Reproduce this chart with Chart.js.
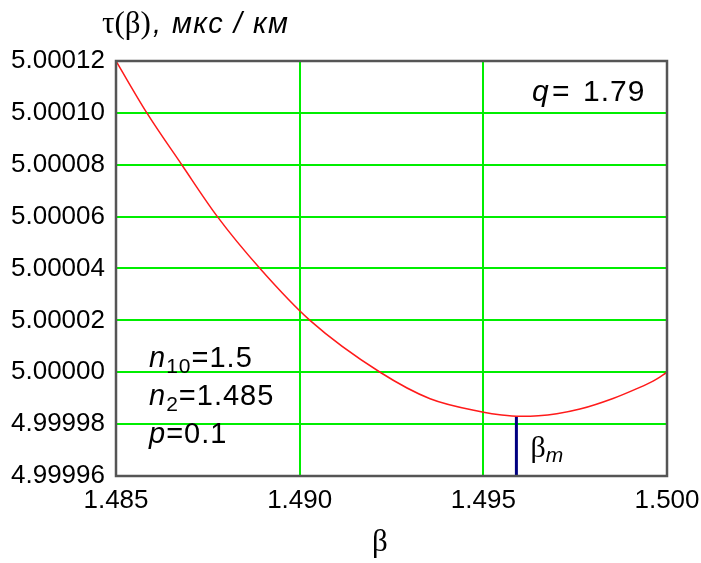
<!DOCTYPE html>
<html>
<head>
<meta charset="utf-8">
<script src="https://cdn.jsdelivr.net/npm/chart.js@4/dist/chart.umd.min.js"></script>
<style>
  html, body { margin: 0; padding: 0; background: #fff; }
  #wrap { width: 701px; height: 563px; }
</style>
</head>
<body>
<div id="wrap"><canvas id="myChart" width="701" height="563"></canvas></div>
<script>
// curve tau(beta)
const beta = [1.485, 1.48584, 1.48679, 1.48776, 1.48892, 1.49028, 1.49219,
  1.49355, 1.49497, 1.4955, 1.4960, 1.4965, 1.4970, 1.49763, 1.49853, 1.49918, 1.49962, 1.500];
const tau = [5.00012, 5.00010, 5.00008, 5.00006, 5.00004, 5.00002, 5.00000,
  4.9999898, 4.9999847, 4.9999835, 4.999983, 4.9999832, 4.999984, 4.9999858, 4.9999899, 4.9999937, 4.9999966, 5.00000];

// marker of the minimum
const betaM = 1.4959;
const tauM = 4.999983;

const xTicks = [1.485, 1.490, 1.495, 1.500];
const yTicks = [4.99996, 4.99998, 5.00000, 5.00002, 5.00004, 5.00006, 5.00008, 5.00010, 5.00012];

const notes = [
  {x: 1.4859, y: 5.000002, name: 'n', sub: '10', val: '=1.5'},
  {x: 1.4859, y: 4.9999872, name: 'n', sub: '2', val: '=1.485'},
  {x: 1.4859, y: 4.9999726, name: 'p', sub: '', val: '=0.1'}
];

const curve = beta.map((b, i) => ({x: b, y: tau[i]}));
const marker = [{x: betaM, y: yTicks[0]}, {x: betaM, y: tauM}];

const textPlugin = {
  id: 'texts',
  afterDraw(chart) {
    const {ctx, chartArea: a, scales: {x, y}} = chart;
    ctx.save();
    // frame
    ctx.strokeStyle = '#555';
    ctx.lineWidth = 2.5;
    ctx.strokeRect(a.left, a.top, a.right - a.left, a.bottom - a.top);

    ctx.fillStyle = '#000';
    ctx.textBaseline = 'alphabetic';
    // title
    ctx.font = '31px "Liberation Serif"';
    ctx.fillText('\u03c4(\u03b2)', 102, 33);
    let w = ctx.measureText('\u03c4(\u03b2)').width;
    ctx.font = 'italic 29px "Liberation Sans"';
    ctx.letterSpacing = '1.5px';
    ctx.fillText(', мкс / км', 104 + w, 33);

    // q
    ctx.letterSpacing = '1px';
    ctx.font = 'italic 30px "Liberation Sans"';
    ctx.fillText('q', 532, 101);
    ctx.font = '30px "Liberation Sans"';
    ctx.fillText('=', 552, 101);
    ctx.fillText('1.79', 583, 101);

    // parameters
    notes.forEach(n => {
      const px = x.getPixelForValue(n.x);
      const py = y.getPixelForValue(n.y);
      ctx.font = 'italic 29px "Liberation Sans"';
      ctx.fillText(n.name, px, py);
      let off = ctx.measureText(n.name).width;
      if (n.sub) {
        ctx.font = '21px "Liberation Sans"';
        ctx.fillText(n.sub, px + off, py + 6);
        off += ctx.measureText(n.sub).width;
      }
      ctx.font = '29px "Liberation Sans"';
      ctx.fillText(n.val, px + off, py);
    });
    ctx.letterSpacing = '0px';

    // beta_m label
    const bx = x.getPixelForValue(betaM) + 14;
    const by = a.bottom - 19;
    ctx.font = '30px "Liberation Serif"';
    ctx.fillText('\u03b2', bx, by);
    w = ctx.measureText('\u03b2').width;
    ctx.font = 'italic 21px "Liberation Sans"';
    ctx.fillText('m', bx + w, by + 5);

    // x axis name
    ctx.font = '31px "Liberation Serif"';
    ctx.textAlign = 'center';
    ctx.fillText('\u03b2', 380, 551);
    ctx.restore();
  }
};

const ctx = document.getElementById('myChart');
new Chart(ctx, {
  type: 'scatter',
  data: {
    datasets: [{
      data: curve,
      showLine: true,
      borderColor: '#ff1a1a',
      borderWidth: 1.5,
      pointRadius: 0,
      cubicInterpolationMode: 'monotone'
    }, {
      data: marker,
      showLine: true,
      borderColor: '#000080',
      borderWidth: 3,
      pointRadius: 0
    }]
  },
  options: {
    responsive: false,
    animation: false,
    layout: {padding: {top: 61, right: 34, bottom: 0, left: 0}},
    plugins: {legend: {display: false}, tooltip: {enabled: false}},
    scales: {
      x: {
        type: 'linear',
        min: xTicks[0],
        max: xTicks[xTicks.length - 1],
        afterBuildTicks: s => { s.ticks = xTicks.map(v => ({value: v})); },
        afterFit: s => { s.height = 87; s.paddingLeft = 0; s.paddingRight = 0; },
        grid: {color: '#00ee00', lineWidth: 2, drawTicks: false},
        border: {display: false},
        ticks: {
          color: '#000',
          padding: 9,
          font: {family: 'Liberation Sans', size: 26},
          callback: v => v.toFixed(3)
        }
      },
      y: {
        min: yTicks[0],
        max: yTicks[yTicks.length - 1],
        afterBuildTicks: s => { s.ticks = yTicks.map(v => ({value: v})); },
        afterFit: s => { s.width = 116; },
        grid: {color: '#00ee00', lineWidth: 2, drawTicks: false},
        border: {display: false},
        ticks: {
          color: '#000',
          padding: 11,
          font: {family: 'Liberation Sans', size: 26},
          callback: v => v.toFixed(5)
        }
      }
    }
  },
  plugins: [textPlugin]
});
</script>
</body>
</html>
